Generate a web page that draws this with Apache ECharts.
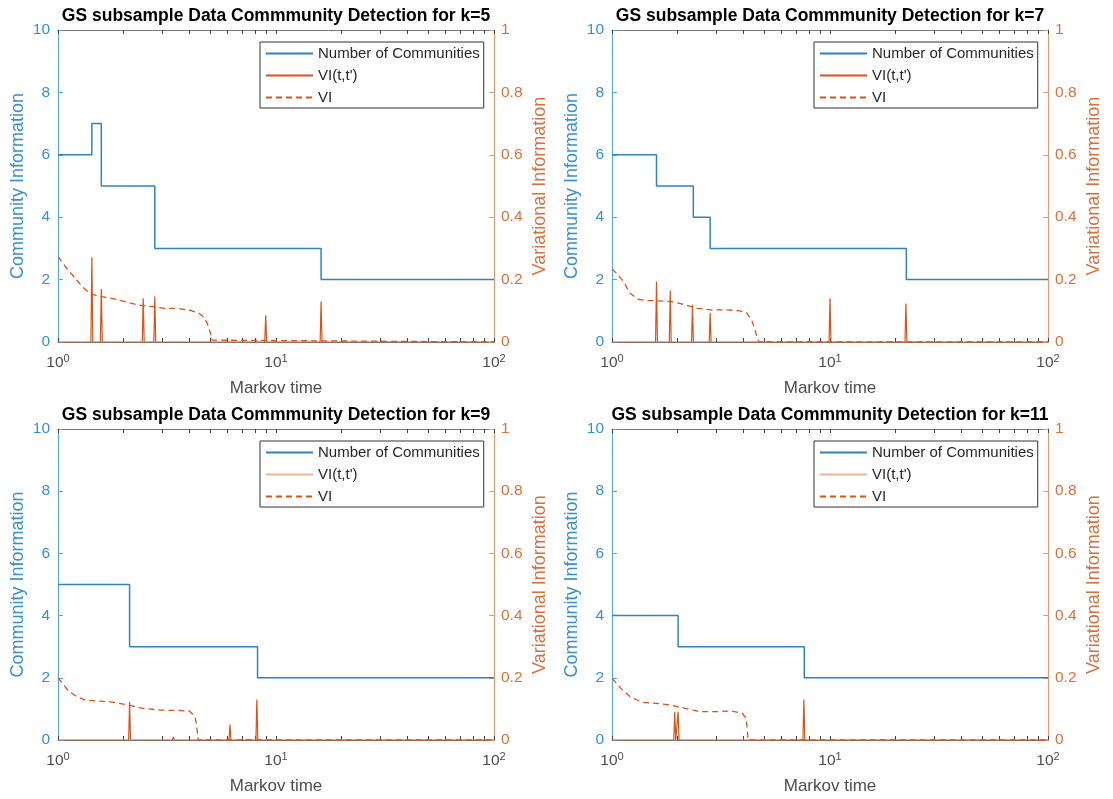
<!DOCTYPE html>
<html>
<head>
<meta charset="utf-8">
<script src="https://cdn.jsdelivr.net/npm/echarts@6/dist/echarts.min.js"></script>
<style>
html,body{margin:0;padding:0;background:#fff;}
#chart{width:1113px;height:799px;}
</style>
</head>
<body>
<div id="chart"></div>
<script>
// ---------------- DATA ----------------
const kValues = [5, 7, 9, 11];
const seriesNames = ['Number of Communities', "VI(t,t')", 'VI'];
const xTickValues = [1, 10, 100];
const xMinorTickValues = [1,2,3,4,5,6,7,8,9,10,20,30,40,50,60,70,80,90,100];
const leftTicks = [0, 2, 4, 6, 8, 10];
const rightTicks = [0, 0.2, 0.4, 0.6, 0.8, 1];

// k = 5
const k5CommT = [1, 1.43, 1.58, 2.78, 16.1, 100];
const k5CommN = [6, 7, 5, 3, 2, 2];
const k5SpikeT = [1.43, 1.58, 2.46, 2.78, 5.4, 5.75, 8.97, 16.1];
const k5SpikeH = [0.272, 0.170, 0.140, 0.146, 0.005, 0.005, 0.086, 0.130];
const k5ViT = [1, 1.08, 1.18, 1.29, 1.41, 1.57, 1.77, 2.01, 2.31, 2.66, 3.07, 3.53, 4.06, 4.44, 4.67, 4.84, 4.98, 5.1, 5.2, 100];
const k5ViV = [0.274, 0.242, 0.21, 0.178, 0.154, 0.146, 0.14, 0.13, 0.119, 0.114, 0.108, 0.108, 0.101, 0.092, 0.079, 0.06, 0.033, 0.006, 0, 0];

// k = 7
const k7CommT = [1, 1.60, 2.36, 2.82, 22.4, 100];
const k7CommN = [6, 5, 4, 3, 2, 2];
const k7SpikeT = [1.60, 1.85, 2.34, 2.82, 5.15, 5.4, 10.0, 22.3];
const k7SpikeH = [0.194, 0.165, 0.119, 0.094, 0.005, 0.005, 0.140, 0.123];
const k7ViT = [1, 1.05, 1.13, 1.21, 1.32, 1.44, 1.6, 1.85, 2.12, 2.45, 2.82, 3.36, 3.86, 4.14, 4.37, 4.53, 4.65, 4.74, 100];
const k7ViV = [0.234, 0.22, 0.194, 0.156, 0.137, 0.133, 0.132, 0.13, 0.121, 0.108, 0.103, 0.103, 0.1, 0.094, 0.071, 0.039, 0.009, 0, 0];

// k = 9
const k9CommT = [1, 2.13, 8.23, 100];
const k9CommN = [5, 3, 2, 2];
const k9SpikeT = [2.13, 3.38, 6.15, 8.17];
const k9SpikeH = [0.123, 0.01, 0.05, 0.13];
const k9ViT = [1, 1.11, 1.22, 1.34, 1.56, 1.81, 2.11, 2.45, 2.96, 3.58, 4.01, 4.25, 4.32, 4.4, 100];
const k9ViV = [0.2, 0.16, 0.139, 0.128, 0.125, 0.121, 0.112, 0.102, 0.096, 0.095, 0.093, 0.075, 0.048, 0, 0];

// k = 11
const k11CommT = [1, 2.01, 7.62, 100];
const k11CommN = [4, 3, 2, 2];
const k11SpikeT = [1.94, 2.01, 7.59];
const k11SpikeH = [0.091, 0.091, 0.13];
const k11ViT = [1, 1.1, 1.21, 1.38, 1.6, 1.86, 2.17, 2.52, 2.93, 3.54, 3.96, 4.12, 4.17, 4.21, 100];
const k11ViV = [0.198, 0.166, 0.139, 0.121, 0.118, 0.112, 0.102, 0.091, 0.091, 0.093, 0.086, 0.07, 0.037, 0, 0];

// ---------------- BUILD ----------------
const panelData = [
  {k: kValues[0], commT: k5CommT, commN: k5CommN, spT: k5SpikeT, spH: k5SpikeH, viT: k5ViT, viV: k5ViV},
  {k: kValues[1], commT: k7CommT, commN: k7CommN, spT: k7SpikeT, spH: k7SpikeH, viT: k7ViT, viV: k7ViV},
  {k: kValues[2], commT: k9CommT, commN: k9CommN, spT: k9SpikeT, spH: k9SpikeH, viT: k9ViT, viV: k9ViV},
  {k: kValues[3], commT: k11CommT, commN: k11CommN, spT: k11SpikeT, spH: k11SpikeH, viT: k11ViT, viV: k11ViV}
];

const gridPos = [
  {left: 58, top: 30, width: 436, height: 312},
  {left: 612, top: 30, width: 436, height: 312},
  {left: 58, top: 429, width: 436, height: 311},
  {left: 612, top: 429, width: 436, height: 311}
];

const FONT = '"Liberation Sans", Arial, Helvetica, sans-serif';
const BLUE_LINE = '#2f84bd';
const BLUE_AXIS = '#5aa8d8';
const BLUE_TEXT = '#3592cc';
const ORANGE = '#d95319';
const ORANGE_AXIS = '#e39a73';
const ORANGE_TEXT = '#d9703a';
const GREY_TEXT = '#4d4d4d';

function zip(a, b) { return a.map((v, i) => [v, b[i]]); }
function spikeLine(ts, hs) {
  const f = 1.01;
  const out = [[1, 0]];
  ts.forEach((t, i) => {
    out.push([t / f, 0]);
    out.push([t, hs[i]]);
    out.push([t * f, 0]);
  });
  out.push([100, 0]);
  return out;
}

const option = {
  animation: false,
  backgroundColor: '#fff',
  textStyle: {fontFamily: FONT},
  title: [], grid: [], xAxis: [], yAxis: [], series: [], legend: []
};

panelData.forEach((p, i) => {
  const g = gridPos[i];
  option.grid.push({left: g.left, top: g.top, width: g.width, height: g.height, containLabel: false});
  option.title.push({
    text: 'GS subsample Data Commmunity Detection for k=' + p.k,
    left: g.left + g.width / 2,
    top: g.top - 23,
    textAlign: 'center',
    padding: 0,
    textStyle: {fontFamily: FONT, fontSize: 17.5, fontWeight: 'bold', color: '#000'}
  });
  // bottom x axis
  option.xAxis.push({
    type: 'log', logBase: 10, gridIndex: i, min: 1, max: 100, position: 'bottom',
    axisLine: {show: true, onZero: false, lineStyle: {color: '#7a7a7a', width: 1}},
    axisTick: {show: true, inside: true, length: 4, customValues: xMinorTickValues, lineStyle: {color: '#404040'}},
    axisLabel: {
      show: true, margin: 11, customValues: xTickValues,
      formatter: v => '{b|10}{s|' + Math.round(Math.log10(v)) + '}',
      rich: {
        b: {fontSize: 15.5, color: GREY_TEXT, fontFamily: FONT},
        s: {fontSize: 11, color: GREY_TEXT, fontFamily: FONT, padding: [0, 0, 9, 0]}
      }
    },
    splitLine: {show: false},
    name: 'Markov time', nameLocation: 'middle', nameGap: 38,
    nameTextStyle: {fontSize: 17, color: GREY_TEXT, fontFamily: FONT}
  });
  // top box axis
  option.xAxis.push({
    type: 'log', logBase: 10, gridIndex: i, min: 1, max: 100, position: 'top',
    axisLine: {show: true, onZero: false, lineStyle: {color: '#7a7a7a', width: 1}},
    axisTick: {show: true, inside: true, length: 4, customValues: xMinorTickValues, lineStyle: {color: '#404040'}},
    axisLabel: {show: false},
    splitLine: {show: false}
  });
  // left y
  option.yAxis.push({
    type: 'value', gridIndex: i, min: 0, max: 10, interval: 2, position: 'left',
    axisLine: {show: true, onZero: false, lineStyle: {color: BLUE_AXIS, width: 1.2}},
    axisTick: {show: true, inside: true, length: 5, lineStyle: {color: BLUE_AXIS}},
    axisLabel: {color: BLUE_TEXT, fontSize: 15.5, margin: 8, fontFamily: FONT},
    splitLine: {show: false},
    name: 'Community Information', nameLocation: 'middle', nameRotate: 90, nameGap: 31,
    nameTextStyle: {fontSize: 18, color: BLUE_TEXT, fontFamily: FONT}
  });
  // right y
  option.yAxis.push({
    type: 'value', gridIndex: i, min: 0, max: 1, interval: 0.2, position: 'right',
    axisLine: {show: true, onZero: false, lineStyle: {color: ORANGE_AXIS, width: 1.2}},
    axisTick: {show: true, inside: true, length: 5, lineStyle: {color: ORANGE_AXIS}},
    axisLabel: {color: ORANGE_TEXT, fontSize: 15.5, margin: 7, fontFamily: FONT},
    splitLine: {show: false},
    name: 'Variational Information', nameLocation: 'middle', nameRotate: 90, nameGap: 37,
    nameTextStyle: {fontSize: 18, color: ORANGE_TEXT, fontFamily: FONT}
  });

  option.series.push({
    type: 'line', name: seriesNames[0], xAxisIndex: 2 * i, yAxisIndex: 2 * i,
    data: zip(p.commT, p.commN), step: 'end', symbol: 'none', showSymbol: false,
    lineStyle: {color: BLUE_LINE, width: 1.5}, itemStyle: {color: BLUE_LINE}, z: 3
  });
  option.series.push({
    type: 'line', name: seriesNames[1], xAxisIndex: 2 * i, yAxisIndex: 2 * i + 1,
    data: spikeLine(p.spT, p.spH), symbol: 'none', showSymbol: false,
    lineStyle: {color: ORANGE, width: 1.2}, itemStyle: {color: ORANGE}, z: 4
  });
  option.series.push({
    type: 'line', name: seriesNames[2], xAxisIndex: 2 * i, yAxisIndex: 2 * i + 1,
    data: zip(p.viT, p.viV), symbol: 'none', showSymbol: false,
    lineStyle: {color: ORANGE, width: 1.3, type: [6, 4]}, itemStyle: {color: ORANGE}, z: 5
  });

  const light = i >= 2;
  const items = [{name: seriesNames[0]}, {name: seriesNames[1]}, {name: seriesNames[2]}];
  if (light) items[1].lineStyle = {color: '#f0b394'};
  option.legend.push({
    orient: 'vertical', left: g.left + 202, top: g.top + 12,
    padding: [4, 4, 3, 5], itemGap: 7, itemWidth: 47, itemHeight: 14,
    backgroundColor: '#fff', borderColor: '#333', borderWidth: 1, borderRadius: 0,
    selectedMode: false,
    itemStyle: {opacity: 0, borderWidth: 0},
    textStyle: {fontSize: 15, color: '#262626', fontFamily: FONT},
    data: items
  });
});

const chart = echarts.init(document.getElementById('chart'), null, {renderer: 'canvas'});
chart.setOption(option);
</script>
</body>
</html>
